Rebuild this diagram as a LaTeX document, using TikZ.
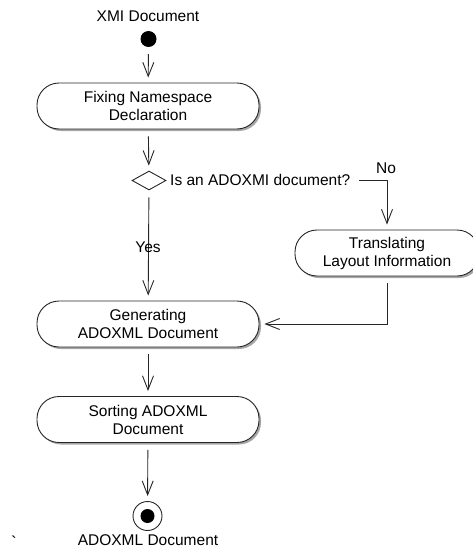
\documentclass[tikz,border=0pt]{standalone}
\usepackage{fontspec}
\setmainfont{Liberation Sans}
\newfontfamily\plainsans{Liberation Sans}
\usetikzlibrary{arrows.meta,shapes.geometric,shadows}
\begin{document}
\begin{tikzpicture}[x=1pt,y=-1pt,
  every node/.style={font=\fontsize{15.5}{18}\selectfont},
  act/.style={draw=black!85, fill=white, rounded corners=22pt, minimum width=222pt,
    minimum height=46pt, align=center, inner sep=0pt, line width=0.9pt,
    drop shadow={shadow xshift=2pt, shadow yshift=-2pt, fill=black!50, opacity=0.7}},
  flow/.style={draw=black!85, line width=0.9pt, shorten <=7pt, shorten >=5pt,
    -{Straight Barb[length=14pt,width=11pt]}},
  lbl/.style={inner sep=0pt}
]
\useasboundingbox (0,0) rectangle (473,551);
\clip (0,0) rectangle (473,551);

\node[lbl] (src) at (148,16) {XMI Document};
\node[circle, fill=black, minimum size=16pt, inner sep=0pt] (start) at (148.5,39) {};
\node[act] (fix) at (148,106) {Fixing Namespace\\Declaration};
\node[diamond, draw=black!85, line width=0.9pt, minimum width=34pt, minimum height=19pt, inner sep=0pt] (dec) at (149,180.5) {};
\node[lbl, anchor=west] (q) at (170,180) {Is an ADOXMI document?};
\node[lbl] (no) at (386,168) {No};
\node[act, minimum width=184pt] (trans) at (387,253) {Translating\\Layout Information};
\node[act] (gen) at (148,324) {Generating\\ADOXML Document};
\node[act] (sort) at (148,419.5) {Sorting ADOXML\\Document};
\node[circle, draw=black!85, line width=0.9pt, fill=white, minimum size=29pt, inner sep=0pt] (end) at (147.5,516) {};
\node[circle, fill=black, minimum size=14pt, inner sep=0pt] (endin) at (end.center) {};
\node[lbl] (sink) at (148,540) {ADOXML Document};
\node[lbl, anchor=north, font=\plainsans\fontsize{17}{17}\selectfont] (tick) at (14,536) {\symbol{"60}};

\draw[flow] (start) -- (fix);
\draw[flow] (fix) -- (dec);
\draw[flow, shorten <=9pt] (q.east) -| (trans.north);
\draw[flow] (dec) -- (gen);
\node[lbl] (yes) at (148,247) {Yes};
\draw[flow] (trans.south) |- (gen.east);
\draw[flow] (gen) -- (sort);
\draw[flow] (sort) -- (end);
\end{tikzpicture}
\end{document}
